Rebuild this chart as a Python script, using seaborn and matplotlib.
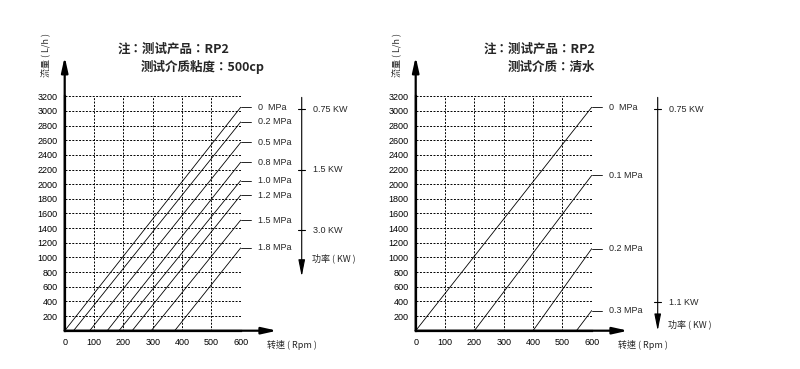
import matplotlib
matplotlib.use("Agg")
import matplotlib.pyplot as plt
import seaborn as sns
import pandas as pd

sns.set_theme(style="white")
plt.rcParams["font.family"] = ["Liberation Sans", "Noto Sans CJK TC", "DejaVu Sans"]

# left chart: 500cp medium, lines run from (start rpm, 0) to (600 rpm, end flow)
visc_pressure = ["0  MPa", "0.2 MPa", "0.5 MPa", "0.8 MPa", "1.0 MPa", "1.2 MPa", "1.5 MPa", "1.8 MPa"]
visc_start_rpm = [0, 30, 85, 145, 185, 230, 295, 375]
visc_end_flow = [3050, 2850, 2570, 2300, 2050, 1850, 1510, 1130]
visc_power = ["0.75 KW", "1.5 KW", "3.0 KW"]
visc_power_flow = [3020, 2200, 1370]

# right chart: water
water_pressure = ["0  MPa", "0.1 MPa", "0.2 MPa", "0.3 MPa"]
water_start_rpm = [0, 200, 400, 548]
water_end_flow = [3050, 2120, 1120, 275]
water_power = ["0.75 KW", "1.1 KW"]
water_power_flow = [3020, 385]

x_ticks = [0, 100, 200, 300, 400, 500, 600]
y_ticks = list(range(200, 3201, 200))

W, H = 800, 369
fig = plt.figure(figsize=(W / 100, H / 100), dpi=100)
fs = 6.5
cjk = ["Noto Sans CJK TC", "DejaVu Sans"]


def make_df(names, starts, ends):
    rows = []
    for n, s, e in zip(names, starts, ends):
        rows.append({"pressure": n, "rpm": s, "flow": 0})
        rows.append({"pressure": n, "rpm": 600, "flow": e})
    return pd.DataFrame(rows)


def draw(left_px, names, starts, ends, power, power_flow, power_end, title1, title2, tcx):
    ax = fig.add_axes([left_px / W, 1 - 330.7 / H, 176 / W, 234.4 / H])
    df = make_df(names, starts, ends)
    sns.lineplot(data=df, x="rpm", y="flow", units="pressure", estimator=None,
                 color="black", lw=0.6, ax=ax, legend=False)
    ax.set_xlim(0, 600)
    ax.set_ylim(0, 3200)
    for x in x_ticks[1:]:
        ax.axvline(x, color="black", lw=0.7, ls=(0, (2, 1.5)), zorder=0)
    for y in y_ticks:
        ax.axhline(y, color="black", lw=0.7, ls=(0, (2, 1.5)), zorder=0)
    for s in ["top", "right"]:
        ax.spines[s].set_visible(False)
    for s in ["left", "bottom"]:
        ax.spines[s].set_color("black")
        ax.spines[s].set_linewidth(1.6)
    ax.set_xticks(x_ticks)
    ax.set_yticks(y_ticks)
    ax.tick_params(length=0, labelsize=fs, pad=5, colors="black")
    ax.set_xlabel("")
    ax.set_ylabel("")

    arrow = dict(arrowstyle="-|>,head_length=0.9,head_width=0.2", color="black",
                 lw=1.6, mutation_scale=10, shrinkA=0, shrinkB=0)
    ax.annotate("", xy=(0, 3740), xytext=(0, 0), arrowprops=arrow, annotation_clip=False)
    ax.annotate("", xy=(724, 0), xytext=(0, 0), arrowprops=arrow, annotation_clip=False)

    # pressure labels with leader lines
    for n, e in zip(names, ends):
        ax.plot([600, 634], [e, e], color="black", lw=0.6, clip_on=False)
        ax.text(660, e, n, fontsize=fs, va="center", ha="left")

    # power axis
    thin = dict(arrowstyle="-|>,head_length=1.0,head_width=0.2", color="black",
                lw=0.8, mutation_scale=10, shrinkA=0, shrinkB=0)
    px_x = 808 if left_px < 100 else 825
    ax.annotate("", xy=(px_x, power_end), xytext=(px_x, 3185), arrowprops=thin,
                annotation_clip=False)
    for p, f in zip(power, power_flow):
        ax.plot([px_x - 12, px_x + 12], [f, f], color="black", lw=0.8, clip_on=False)
        ax.text(px_x + 38, f, p, fontsize=fs, va="center", ha="left")
    ax.text(px_x + 36, power_end + 250 if left_px < 100 else power_end + 90,
            "功率 ( KW )", fontsize=fs, va="center", ha="left", family=cjk)

    ax.text(690, -190, "转速 ( Rpm )", fontsize=fs, va="center", ha="left", family=cjk)
    ax.text(-62, 3765, "流量 ( L/h )", fontsize=6.5, rotation=90, va="center", ha="center",
            family=cjk)

    fig.text(tcx[0] / W, 1 - 49 / H, title1, fontsize=9, ha="center", va="center",
             family=cjk, fontweight="bold")
    fig.text(tcx[1] / W, 1 - 67 / H, title2, fontsize=9, ha="center", va="center",
             family=cjk, fontweight="bold")


draw(64.7, visc_pressure, visc_start_rpm, visc_end_flow, visc_power, visc_power_flow, 740,
     "注：测试产品：RP2", "测试介质粘度：500cp", (173.5, 203))
draw(415.7, water_pressure, water_start_rpm, water_end_flow, water_power, water_power_flow, 0,
     "注：测试产品：RP2", "测试介质：清水", (540, 551))

fig.savefig("out.png", dpi=100)
